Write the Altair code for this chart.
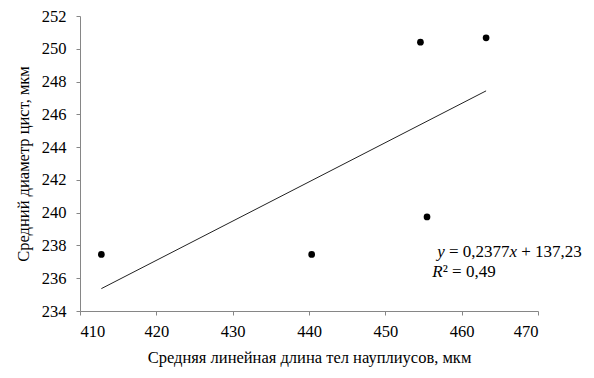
import altair as alt
import pandas as pd

length = [412.8, 440.35, 454.6, 455.46, 463.2]
diameter = [237.45, 237.45, 250.4, 239.74, 250.67]

df = pd.DataFrame({"x": length, "y": diameter})

FONT = "Times New Roman"
xscale = alt.Scale(domain=[410, 470], nice=False, zero=False)
yscale = alt.Scale(domain=[234, 252], nice=False, zero=False)

xaxis = alt.Axis(values=[410, 420, 430, 440, 450, 460, 470], grid=False,
                 title="Средняя линейная длина тел науплиусов, мкм",
                 tickSize=4, labelPadding=8, titlePadding=10, labelOverlap=False)
yaxis = alt.Axis(values=list(range(234, 253, 2)), grid=False,
                 title="Средний диаметр цист, мкм",
                 tickSize=4, labelPadding=10, titlePadding=10, labelOverlap=False)

base = alt.Chart(df)

points = base.mark_circle(size=45, color="black", opacity=1).encode(
    x=alt.X("x:Q", scale=xscale, axis=xaxis),
    y=alt.Y("y:Q", scale=yscale, axis=yaxis),
)

trend = base.transform_regression("x", "y").mark_line(
    color="#222222", strokeWidth=1
).encode(x=alt.X("x:Q", scale=xscale, axis=xaxis), y=alt.Y("y:Q", scale=yscale, axis=yaxis))

# equation annotation pieces
eq_x = [456.8]
eq1_y = [237.6]
eq2_y = [236.4]
ann = pd.DataFrame({"x": eq_x, "y1": eq1_y, "y2": eq2_y})
abase = alt.Chart(ann)
fs = 17

def txt(text, ycol, dx, italic=False):
    return abase.mark_text(text=text, align="left", baseline="middle", dx=dx,
                           font=FONT, fontSize=fs, color="black",
                           fontStyle="italic" if italic else "normal").encode(
        x=alt.X("x:Q", scale=xscale, axis=xaxis), y=alt.Y(f"{ycol}:Q", scale=yscale, axis=yaxis))

eq = (txt("y", "y1", 0, True) + txt("= 0,2377", "y1", 11.75) +
      txt("x", "y1", 72.3, True) + txt("+ 137,23", "y1", 84) +
      txt("R", "y2", -5, True) + txt("² = 0,49", "y2", 5.5))

chart = alt.layer(points, trend, eq).properties(
    width=458, height=295,
    autosize=alt.AutoSizeParams(type="none"),
    padding={"left": 72, "top": 8, "right": 48, "bottom": 59},
).configure_view(stroke=None).configure_axis(
    domainColor="#868686", tickColor="#868686", labelColor="black",
    titleColor="black", labelFont=FONT, titleFont=FONT, labelFontSize=16.5,
    titleFontSize=16.5, titleFontWeight="normal", domainWidth=1, tickWidth=1,
)

chart.save("out.html", embed_options={"renderer": "svg", "actions": False})
